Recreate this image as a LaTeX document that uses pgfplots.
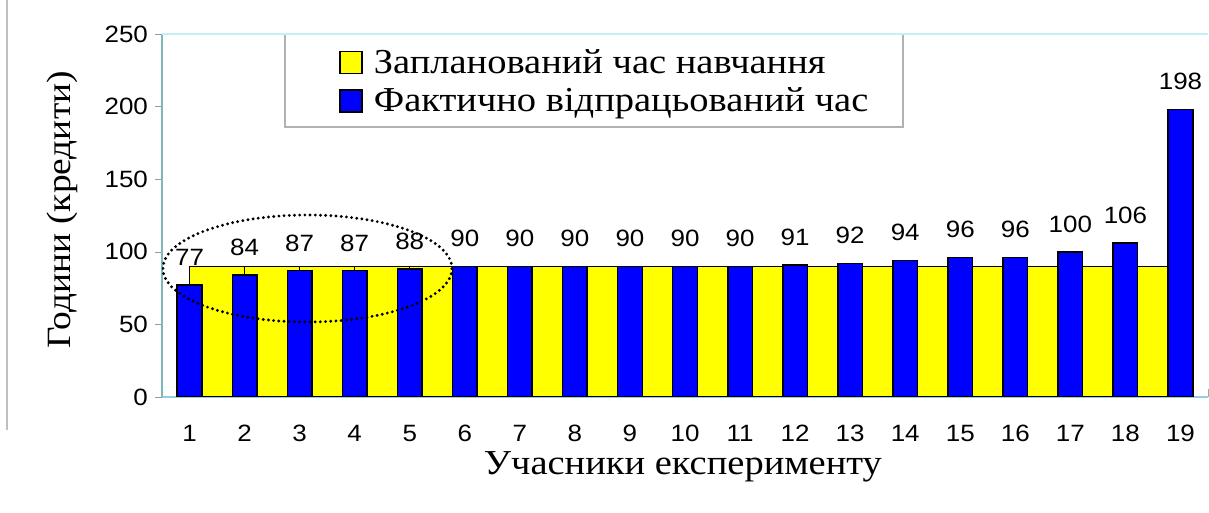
\documentclass[border=0pt]{standalone}
\usepackage{fontspec}
\setmainfont{Liberation Sans}[FakeStretch=1.1]
\newfontfamily\serifcyr{Liberation Serif}[FakeStretch=1.1]
\usepackage{pgfplots}
\pgfplotsset{compat=1.18}
\definecolor{barblue}{RGB}{0,0,255}
\definecolor{baryellow}{RGB}{255,255,0}
\definecolor{axisteal}{RGB}{125,185,185}
\definecolor{axislight}{RGB}{150,205,230}
\definecolor{topcyan}{RGB}{195,240,245}

\begin{document}
\begin{tikzpicture}
\begin{axis}[
    name=main,
    scale only axis,
    width=523pt, height=181.5pt,
    xmin=0.5, xmax=19.5, ymin=0, ymax=250,
    axis x line*=bottom, axis y line*=left,
    x axis line style={draw=axislight, line width=0.8pt, -},
    y axis line style={draw=axisteal, line width=0.8pt, -},
    tick align=inside,
    xtick={1,...,19},
    major x tick style={draw=none},
    minor xtick={0.5,1.5,...,19.5},
    minor x tick style={draw=gray!70},
    minor tick length=4pt,
    ytick={0,50,...,250},
    major tick length=3.5pt,
    major y tick style={draw=gray!80, xshift=-3.5pt},
    /pgf/number format/assume math mode=true,
    ticklabel style={font=\fontsize{11.8}{13}\selectfont},
    xticklabel style={anchor=center, yshift=-18pt},
    yticklabel style={xshift=-3.5pt},
    ylabel={\serifcyr\fontsize{17}{20}\selectfont Години (кредити)},
    ylabel style={at={(axis description cs:-0.0956,0.515)}, anchor=center},
    xlabel={\serifcyr\fontsize{17.5}{20}\selectfont Учасники експерименту},
    xlabel style={at={(axis description cs:0.498,0)}, anchor=base, yshift=-39pt},
    legend image code/.code={\draw[#1, line width=0.75pt] (0pt,-5.5pt) rectangle (11pt,5.5pt);},
    legend cell align=left,
    legend style={at={(axis description cs:0.1692,1)}, anchor=north west, yshift=-5.5pt,
        draw=none, fill=none, inner sep=0pt, row sep=2.25pt, column sep=5.5pt,
        font=\serifcyr\fontsize{17.5}{20}\selectfont,
        nodes={inner sep=0pt, text height=14pt, text depth=3pt}},
]
% planned time: a flat band at 90 from the first to the last participant
\addplot[ybar, bar width=1, bar shift=0pt, fill=baryellow, draw=black, line width=0.75pt]
coordinates {
    (1.5,90) (2.5,90) (3.5,90) (4.5,90) (5.5,90) (6.5,90) (7.5,90) (8.5,90) (9.5,90)
    (10.5,90) (11.5,90) (12.5,90) (13.5,90) (14.5,90) (15.5,90) (16.5,90) (17.5,90) (18.5,90)
};
\addlegendentry{Запланований час навчання}
\addplot[ybar, bar width=0.447, bar shift=0pt, fill=barblue, draw=black, line width=0.75pt,
    nodes near coords,
    nodes near coords style={font=\fontsize{11.8}{13}\selectfont, text=black, yshift=6pt}]
coordinates {
    (1,77) (2,84) (3,87) (4,87) (5,88) (6,90) (7,90) (8,90) (9,90) (10,90)
    (11,90) (12,91) (13,92) (14,94) (15,96) (16,96) (17,100) (18,106) (19,198)
};
\addlegendentry{Фактично відпрацьований час}
% legend frame and plot-area top border
\draw[gray!60, line width=0.7pt, fill=white]
    (axis description cs:0.1176,1) rectangle (axis description cs:0.7084,0.7438);
\draw[topcyan, line width=0.8pt] (axis description cs:0,1) -- (axis description cs:1,1);
% highlighted group
\draw[line width=1.6pt, dash pattern=on 0pt off 2.6pt, line cap=round]
    (axis cs:3.142,88.5) ellipse [x radius=72.25pt, y radius=26.75pt];
\end{axis}
\draw[gray!50, line width=0.8pt] ([xshift=-77.5pt,yshift=17pt]main.north west) -- ([xshift=-77.5pt,yshift=-16.5pt]main.south west);
\pgfresetboundingbox
\useasboundingbox ([xshift=-81pt,yshift=-58pt]main.south west) rectangle ([xshift=0.5pt,yshift=17pt]main.north east);
\end{tikzpicture}
\end{document}
